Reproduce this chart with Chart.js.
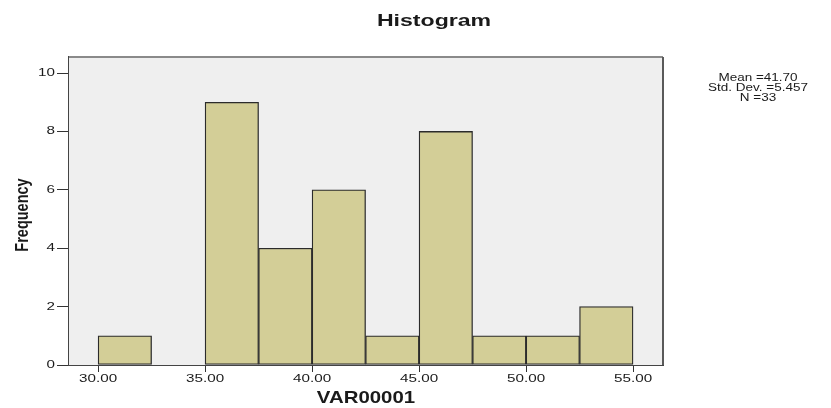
<!DOCTYPE html>
<html>
<head>
<meta charset="utf-8">
<script src="https://cdn.jsdelivr.net/npm/chart.js@4/dist/chart.umd.min.js"></script>
<style>
  html, body { margin: 0; padding: 0; background: #ffffff; }
  #wrap { width: 831px; height: 408px; }
</style>
</head>
<body>
<div id="wrap"><canvas id="c" width="831" height="408"></canvas></div>
<script>
// ---- data ----
const binCenters = [31.25, 33.75, 36.25, 38.75, 41.25, 43.75, 46.25, 48.75, 51.25, 53.75];
const frequencies = [1, null, 9, 4, 6, 1, 8, 1, 1, 2];
const xTickValues = [30, 35, 40, 45, 50, 55];
const yTickValues = [0, 2, 4, 6, 8, 10];
const chartTitle = "Histogram";
const xTitle = "VAR00001";
const yTitle = "Frequency";
const statsLines = ["Mean =41.70", "Std. Dev. =5.457", "N =33"];

const FONT = '"Liberation Sans", Arial, sans-serif';

function stretchText(ctx, text, x, y, font, sx, align, rot) {
  ctx.save();
  ctx.translate(x, y);
  ctx.scale(sx, 1);
  if (rot) ctx.rotate(rot);
  ctx.font = font;
  ctx.fillStyle = '#1a1a1a';
  ctx.textAlign = align;
  ctx.textBaseline = 'middle';
  ctx.fillText(text, 0, 0);
  ctx.restore();
}

const decor = {
  id: 'decor',
  beforeDatasetsDraw(chart) {
    const { ctx, chartArea: a } = chart;
    ctx.save();
    ctx.fillStyle = '#efefef';
    ctx.fillRect(a.left, a.top, a.right - a.left, a.bottom - a.top);
    ctx.restore();
  },
  afterDraw(chart) {
    const { ctx, chartArea: a } = chart;
    const xs = chart.scales.x, ys = chart.scales.y;
    // frame top / right
    ctx.save();
    ctx.strokeStyle = '#8a8a8a';
    ctx.lineWidth = 2;
    ctx.beginPath();
    ctx.moveTo(a.left, a.top);
    ctx.lineTo(a.right, a.top);
    ctx.stroke();
    ctx.strokeStyle = '#5a5a5a';
    ctx.beginPath();
    ctx.moveTo(a.right, a.top);
    ctx.lineTo(a.right, a.bottom);
    ctx.stroke();
    ctx.restore();
    // x tick labels
    xs.ticks.forEach((t, i) => {
      stretchText(ctx, Number(t.value).toFixed(2), xs.getPixelForTick(i), a.bottom + 14.5,
        '10.5px ' + FONT, 1.45, 'center');
    });
    // y tick labels
    ys.ticks.forEach((t, i) => {
      stretchText(ctx, String(t.value), a.left - 14, ys.getPixelForTick(i),
        '10.5px ' + FONT, 1.45, 'right');
    });
    // titles
    stretchText(ctx, chartTitle, 434, 21, 'bold 16.5px ' + FONT, 1.4, 'center');
    stretchText(ctx, xTitle, (a.left + a.right) / 2, 398, 'bold 17px ' + FONT, 1.2, 'center');
    stretchText(ctx, yTitle, 23, (a.top + a.bottom) / 2 + 4, 'bold 14.5px ' + FONT, 1.25, 'center', -Math.PI / 2);
    // stats box
    statsLines.forEach((s, i) => {
      stretchText(ctx, s, 758, 78 + i * 10, '10px ' + FONT, 1.35, 'center');
    });
  }
};

new Chart(document.getElementById('c'), {
  type: 'bar',
  data: {
    datasets: [{
      data: binCenters.map((c, i) => ({ x: c, y: frequencies[i] })),
      backgroundColor: '#d3ce97',
      borderColor: '#2b2b2b',
      borderWidth: 1.3,
      borderSkipped: false,
      barPercentage: 1,
      categoryPercentage: 1
    }]
  },
  options: {
    responsive: false,
    animation: false,
    events: [],
    layout: { padding: { left: 57, right: 168, top: 57, bottom: 36 } },
    plugins: { legend: { display: false }, tooltip: { enabled: false }, title: { display: false } },
    scales: {
      x: {
        type: 'linear',
        min: 28.64,
        max: 56.4,
        offset: false,
        afterBuildTicks: (s) => { s.ticks = xTickValues.map(v => ({ value: v })); },
        ticks: { display: false },
        grid: { offset: false, drawOnChartArea: false, drawTicks: true, tickLength: 7, color: '#333333', lineWidth: 1 },
        border: { display: true, color: '#444444', width: 2 }
      },
      y: {
        type: 'linear',
        min: 0,
        max: 10.55,
        afterBuildTicks: (s) => { s.ticks = yTickValues.map(v => ({ value: v })); },
        ticks: { display: false },
        grid: { drawOnChartArea: false, drawTicks: true, tickLength: 12, color: '#333333', lineWidth: 1 },
        border: { display: true, color: '#444444', width: 2 }
      }
    }
  },
  plugins: [decor]
});
</script>
</body>
</html>
